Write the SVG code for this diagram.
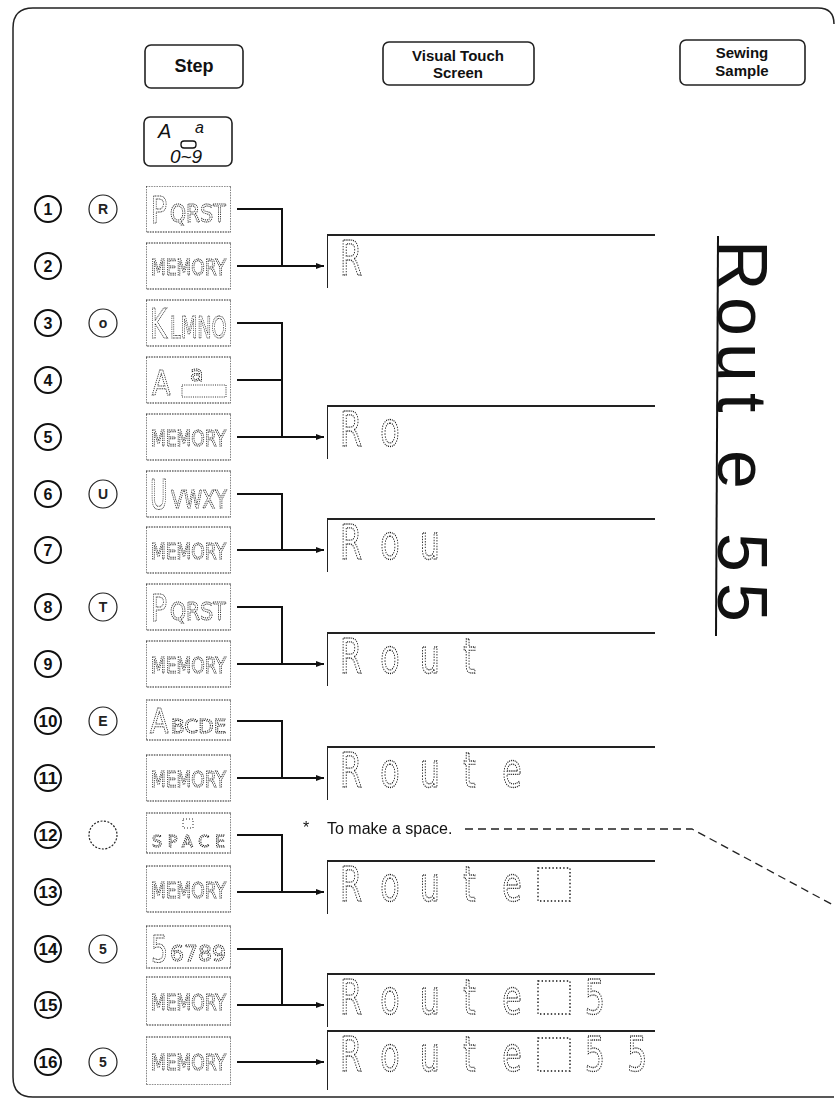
<svg xmlns="http://www.w3.org/2000/svg" width="835" height="1106" viewBox="0 0 835 1106">
<style>
.frame{fill:none;stroke:#222;stroke-width:1.5}
.btn{fill:#fff;stroke:#222;stroke-width:1.6}
.hdr{font-family:"Liberation Sans",Arial,sans-serif;font-weight:bold;fill:#111;text-anchor:middle}
.key{fill:#fff;stroke:#222;stroke-width:1.1;stroke-dasharray:1.6 1}
.kt{font-family:"DejaVu Sans",sans-serif;fill:none;stroke:#1a1a1a;stroke-width:1;stroke-dasharray:1.2 1}
.num{fill:#fff;stroke:#111;stroke-width:2}
.numt{font-family:"Liberation Sans",Arial,sans-serif;font-weight:bold;font-size:16px;fill:#111;text-anchor:middle}
.let{fill:#fff;stroke:#222;stroke-width:1.2}
.lett{font-family:"Liberation Sans",Arial,sans-serif;font-weight:bold;font-size:14px;fill:#222;text-anchor:middle}
.con{fill:none;stroke:#111;stroke-width:2}
.scr{fill:none;stroke:#222;stroke-width:2}
.st{font-family:"DejaVu Sans",sans-serif;font-size:48px;fill:none;stroke:#111;stroke-width:1.3;stroke-dasharray:1.4 1.4}
.sq{fill:none;stroke:#111;stroke-width:1.4;stroke-dasharray:1.4 2.2}
.note{font-family:"Liberation Sans",Arial,sans-serif;font-size:16px;fill:#111}
.hand{font-family:"Liberation Sans",Arial,sans-serif;font-size:70px;fill:#111}
</style>
<defs>
<marker id="arr" viewBox="0 0 8 6" refX="8" refY="3" markerWidth="8" markerHeight="6" orient="auto" markerUnits="userSpaceOnUse">
<path d="M0,0 L8,3 L0,6 z" fill="#111"/>
</marker>
<filter id="gs" x="0" y="0" width="1" height="1" filterUnits="objectBoundingBox"><feColorMatrix type="saturate" values="0"/></filter>
</defs>

<path class="frame" d="M834,24 Q834,8 818,8 H33 Q13,8 13,28 V1077 Q13,1097 33,1097 H834"/>

<g id="header">
<g id="h-step"><rect class="btn" x="145" y="45" width="98" height="43" rx="6"/><text class="hdr" x="194" y="72" font-size="18">Step</text></g>
<g id="h-screen"><rect class="btn" x="383" y="42" width="151" height="43" rx="6"/><text class="hdr" x="458" y="61" font-size="15">Visual Touch</text><text class="hdr" x="458" y="78" font-size="15">Screen</text></g>
<g id="h-sample"><rect class="btn" x="680" y="40" width="125" height="45" rx="6"/><text class="hdr" x="742" y="58" font-size="15">Sewing</text><text class="hdr" x="742" y="76" font-size="15">Sample</text></g>
<g id="k-case"><rect class="btn" x="144" y="117" width="88" height="49" rx="6"/>
<text x="158" y="138" font-family="Liberation Sans,Arial,sans-serif" font-style="italic" font-size="20" fill="#111">A</text>
<text x="195" y="133" font-family="Liberation Sans,Arial,sans-serif" font-style="italic" font-size="16" fill="#111">a</text>
<rect x="181" y="141" width="15" height="7" rx="3" fill="none" stroke="#111" stroke-width="1.3"/>
<text x="186" y="163" font-family="Liberation Sans,Arial,sans-serif" font-style="italic" font-size="19" fill="#111" text-anchor="middle">0~9</text>
</g>
</g>

<g id="markers">
<g id="n1"><circle class="num" cx="48" cy="209" r="13"/><text class="numt" x="48" y="215">1</text></g>
<g id="n2"><circle class="num" cx="48" cy="266" r="13"/><text class="numt" x="48" y="272">2</text></g>
<g id="n3"><circle class="num" cx="48" cy="323" r="13"/><text class="numt" x="48" y="329">3</text></g>
<g id="n4"><circle class="num" cx="48" cy="380" r="13"/><text class="numt" x="48" y="386">4</text></g>
<g id="n5"><circle class="num" cx="48" cy="437" r="13"/><text class="numt" x="48" y="443">5</text></g>
<g id="n6"><circle class="num" cx="48" cy="494" r="13"/><text class="numt" x="48" y="500">6</text></g>
<g id="n7"><circle class="num" cx="48" cy="550" r="13"/><text class="numt" x="48" y="556">7</text></g>
<g id="n8"><circle class="num" cx="48" cy="607" r="13"/><text class="numt" x="48" y="613">8</text></g>
<g id="n9"><circle class="num" cx="48" cy="664" r="13"/><text class="numt" x="48" y="670">9</text></g>
<g id="n10"><circle class="num" cx="48" cy="721" r="13"/><text class="numt" x="48" y="727" textLength="19" lengthAdjust="spacingAndGlyphs">10</text></g>
<g id="n11"><circle class="num" cx="48" cy="778" r="13"/><text class="numt" x="48" y="784" textLength="19" lengthAdjust="spacingAndGlyphs">11</text></g>
<g id="n12"><circle class="num" cx="48" cy="835" r="13"/><text class="numt" x="48" y="841" textLength="19" lengthAdjust="spacingAndGlyphs">12</text></g>
<g id="n13"><circle class="num" cx="48" cy="892" r="13"/><text class="numt" x="48" y="898" textLength="19" lengthAdjust="spacingAndGlyphs">13</text></g>
<g id="n14"><circle class="num" cx="48" cy="949" r="13"/><text class="numt" x="48" y="955" textLength="19" lengthAdjust="spacingAndGlyphs">14</text></g>
<g id="n15"><circle class="num" cx="48" cy="1005" r="13"/><text class="numt" x="48" y="1011" textLength="19" lengthAdjust="spacingAndGlyphs">15</text></g>
<g id="n16"><circle class="num" cx="48" cy="1062" r="13"/><text class="numt" x="48" y="1068" textLength="19" lengthAdjust="spacingAndGlyphs">16</text></g>

<g id="c1"><circle class="let" cx="103" cy="209" r="14"/><text class="lett" x="103" y="214">R</text></g>
<g id="c3"><circle class="let" cx="103" cy="323" r="14"/><text class="lett" x="103" y="328">o</text></g>
<g id="c6"><circle class="let" cx="103" cy="494" r="14"/><text class="lett" x="103" y="499">U</text></g>
<g id="c8"><circle class="let" cx="103" cy="607" r="14"/><text class="lett" x="103" y="612">T</text></g>
<g id="c10"><circle class="let" cx="103" cy="721" r="14"/><text class="lett" x="103" y="726">E</text></g>
<g id="c12"><circle class="let" cx="103" cy="835" r="14" stroke-dasharray="2 1.5"/></g>
<g id="c14"><circle class="let" cx="103" cy="949" r="14"/><text class="lett" x="103" y="954">5</text></g>
<g id="c16"><circle class="let" cx="103" cy="1062" r="14"/><text class="lett" x="103" y="1067">5</text></g>
</g>

<g id="keys" filter="url(#gs)">
<g id="k1" transform="translate(146,186)"><rect class="key" width="85" height="46"/><text class="kt" transform="translate(5,37) scale(0.7,1)" font-size="38">P</text><text class="kt" transform="translate(24,36) scale(0.85,1)" font-size="24">QRST</text></g>
<g id="k2" transform="translate(146,243)"><rect class="key" width="85" height="46"/><text class="kt" x="5" y="32" font-size="22" textLength="75" lengthAdjust="spacingAndGlyphs">MEMORY</text></g>
<g id="k3" transform="translate(146,300)"><rect class="key" width="85" height="46"/><text class="kt" transform="translate(4,38) scale(0.65,1)" font-size="40">K</text><text class="kt" transform="translate(24,38) scale(0.64,1)" font-size="30">LMNO</text></g>
<g id="k4" transform="translate(146,357)"><rect class="key" width="85" height="46"/><text class="kt" transform="translate(6,38) scale(0.8,1)" font-size="34">A</text><text class="kt" x="44" y="24" font-size="22">a</text><rect x="36" y="28" width="44" height="12" fill="none" stroke="#333" stroke-width="1" stroke-dasharray="1 1.2"/></g>
<g id="k5" transform="translate(146,414)"><rect class="key" width="85" height="46"/><text class="kt" x="5" y="32" font-size="22" textLength="75" lengthAdjust="spacingAndGlyphs">MEMORY</text></g>
<g id="k6" transform="translate(146,471)"><rect class="key" width="85" height="46"/><text class="kt" transform="translate(4,38) scale(0.6,1)" font-size="40">U</text><text class="kt" transform="translate(25,37) scale(0.78,1)" font-size="24">VWXY</text></g>
<g id="k7" transform="translate(146,527)"><rect class="key" width="85" height="46"/><text class="kt" x="5" y="32" font-size="22" textLength="75" lengthAdjust="spacingAndGlyphs">MEMORY</text></g>
<g id="k8" transform="translate(146,584)"><rect class="key" width="85" height="46"/><text class="kt" transform="translate(5,37) scale(0.7,1)" font-size="38">P</text><text class="kt" transform="translate(24,36) scale(0.85,1)" font-size="24">QRST</text></g>
<g id="k9" transform="translate(146,641)"><rect class="key" width="85" height="46"/><text class="kt" x="5" y="32" font-size="22" textLength="75" lengthAdjust="spacingAndGlyphs">MEMORY</text></g>
<g id="k10" transform="translate(146,700)"><rect class="key" width="85" height="40"/><text class="kt" transform="translate(4,33) scale(0.8,1)" font-size="34">A</text><text class="kt" x="25" y="33" font-size="20">BCDE</text></g>
<g id="k11" transform="translate(146,755)"><rect class="key" width="85" height="46"/><text class="kt" x="5" y="32" font-size="22" textLength="75" lengthAdjust="spacingAndGlyphs">MEMORY</text></g>
<g id="k12" transform="translate(146,813)"><rect class="key" width="85" height="40"/><rect x="37" y="6" width="10" height="9" fill="none" stroke="#222" stroke-width="1" stroke-dasharray="1 2"/><text class="kt" x="6" y="34" font-size="16" textLength="73" lengthAdjust="spacing">SPACE</text></g>
<g id="k13" transform="translate(146,866)"><rect class="key" width="85" height="46"/><text class="kt" x="5" y="32" font-size="22" textLength="75" lengthAdjust="spacingAndGlyphs">MEMORY</text></g>
<g id="k14" transform="translate(146,926)"><rect class="key" width="85" height="42"/><text class="kt" transform="translate(5,36) scale(0.7,1)" font-size="38">5</text><text class="kt" x="24" y="35" font-size="22">6789</text></g>
<g id="k15" transform="translate(146,977)"><rect class="key" width="85" height="48"/><text class="kt" x="5" y="33" font-size="22" textLength="75" lengthAdjust="spacingAndGlyphs">MEMORY</text></g>
<g id="k16" transform="translate(146,1037)"><rect class="key" width="85" height="48"/><text class="kt" x="5" y="33" font-size="22" textLength="75" lengthAdjust="spacingAndGlyphs">MEMORY</text></g>
</g>

<g id="connectors">
<path class="con" d="M237,209 H282 V266"/>
<path class="con" d="M237,266 H324" marker-end="url(#arr)"/>
<path class="con" d="M237,323 H282 V437"/>
<path class="con" d="M237,380 H282"/>
<path class="con" d="M237,437 H324" marker-end="url(#arr)"/>
<path class="con" d="M237,494 H282 V550"/>
<path class="con" d="M237,550 H324" marker-end="url(#arr)"/>
<path class="con" d="M237,607 H282 V664"/>
<path class="con" d="M237,664 H324" marker-end="url(#arr)"/>
<path class="con" d="M237,721 H282 V778"/>
<path class="con" d="M237,778 H324" marker-end="url(#arr)"/>
<path class="con" d="M237,835 H282 V892"/>
<path class="con" d="M237,892 H324" marker-end="url(#arr)"/>
<path class="con" d="M237,949 H282 V1005"/>
<path class="con" d="M237,1005 H324" marker-end="url(#arr)"/>
<path class="con" d="M237,1062 H324" marker-end="url(#arr)"/>
<path d="M465,829 H692 L835,906" fill="none" stroke="#222" stroke-width="1.3" stroke-dasharray="8 5"/>
</g>

<g id="screens" filter="url(#gs)">
<g id="s1"><path class="scr" d="M327,288 V235 H655"/><text class="st" transform="matrix(0.66 0 0 1 0 0)" x="515" y="275">R</text></g>
<g id="s2"><path class="scr" d="M327,459 V406 H655"/><text class="st" transform="matrix(0.66 0 0 1 0 0)" x="515 576" y="446">Ro</text></g>
<g id="s3"><path class="scr" d="M327,572 V519 H655"/><text class="st" transform="matrix(0.66 0 0 1 0 0)" x="515 576 636" y="559">Rou</text></g>
<g id="s4"><path class="scr" d="M327,686 V633 H655"/><text class="st" transform="matrix(0.66 0 0 1 0 0)" x="515 576 636 702" y="673">Rout</text></g>
<g id="s5"><path class="scr" d="M327,800 V747 H655"/><text class="st" transform="matrix(0.66 0 0 1 0 0)" x="515 576 636 702 761" y="787">Route</text></g>
<g id="s6"><path class="scr" d="M327,914 V861 H655"/><text class="st" transform="matrix(0.66 0 0 1 0 0)" x="515 576 636 702 761" y="901">Route</text><rect class="sq" x="538" y="868" width="32" height="33"/></g>
<g id="s7"><path class="scr" d="M327,1027 V974 H655"/><text class="st" transform="matrix(0.66 0 0 1 0 0)" x="515 576 636 702 761 830 886" y="1014">Route 5</text><rect class="sq" x="538" y="981" width="32" height="33"/></g>
<g id="s8"><path class="scr" d="M327,1090 V1031 H655"/><text class="st" transform="matrix(0.66 0 0 1 0 0)" x="515 576 636 702 761 830 886 950" y="1071">Route 55</text><rect class="sq" x="538" y="1038" width="32" height="33"/></g>
</g>

<g id="note"><text class="note" x="303" y="833">*</text><text class="note" x="327" y="834">To make a space.</text></g>

<g id="sample">
<line x1="718" y1="236" x2="716" y2="636" stroke="#111" stroke-width="2"/>
<text class="hand" transform="translate(718,240) rotate(90)" x="0 57 103 153 210 293 343" y="0">Route55</text>
</g>
</svg>
